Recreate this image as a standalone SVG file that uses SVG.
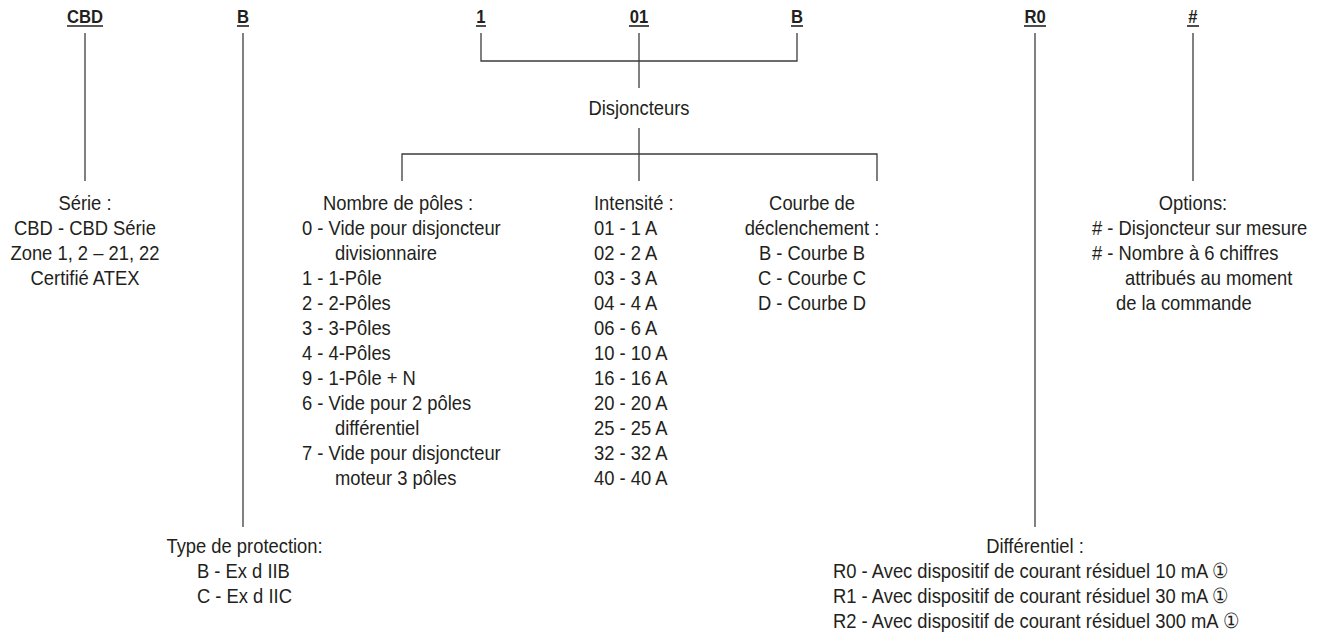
<svg xmlns="http://www.w3.org/2000/svg" width="1319" height="636" viewBox="0 0 1319 636">
<style>
  text { font-family: "Liberation Sans", Arial, sans-serif; fill: #231f20; }
  .t { font-size: 21px; }
  .h { font-size: 19px; font-weight: bold; text-anchor: middle; }
  .m { text-anchor: middle; }
  .ln { stroke: #3c3c3c; stroke-width: 1.3; fill: none; }
  .ul { stroke: #231f20; stroke-width: 1.6; }
</style>
<rect width="1319" height="636" fill="#ffffff"/>

<g id="connectors" class="ln">
  <path d="M85 33 V181"/>
  <path d="M243 33 V527"/>
  <path d="M481 33 V61 H797 V33"/>
  <path d="M639 33 V88"/>
  <path d="M639 128 V181"/>
  <path d="M402 181 V154 H877 V181"/>
  <path d="M1035 33 V527"/>
  <path d="M1193 33 V181"/>
</g>

<g id="code-cbd">
  <g transform="translate(85 0) scale(0.875 1)"><text class="h" x="0" y="23">CBD</text></g>
  <line class="ul" x1="67" y1="26" x2="103" y2="26"/>
</g>
<g id="code-b1">
  <g transform="translate(243 0) scale(0.875 1)"><text class="h" x="0" y="23">B</text></g>
  <line class="ul" x1="237" y1="26" x2="249" y2="26"/>
</g>
<g id="code-1">
  <g transform="translate(481 0) scale(0.875 1)"><text class="h" x="0" y="23">1</text></g>
  <line class="ul" x1="476" y1="26" x2="486" y2="26"/>
</g>
<g id="code-01">
  <g transform="translate(639 0) scale(0.875 1)"><text class="h" x="0" y="23">01</text></g>
  <line class="ul" x1="629" y1="26" x2="649" y2="26"/>
</g>
<g id="code-b2">
  <g transform="translate(797 0) scale(0.875 1)"><text class="h" x="0" y="23">B</text></g>
  <line class="ul" x1="791" y1="26" x2="803" y2="26"/>
</g>
<g id="code-r0">
  <g transform="translate(1035 0) scale(0.875 1)"><text class="h" x="0" y="23">R0</text></g>
  <line class="ul" x1="1024" y1="26" x2="1046" y2="26"/>
</g>
<g id="code-hash">
  <g transform="translate(1193 0) scale(0.875 1)"><text class="h" x="0" y="23">#</text></g>
  <line class="ul" x1="1187" y1="26" x2="1199" y2="26"/>
</g>

<g id="disjoncteurs" transform="translate(639 0) scale(0.875 1)">
  <text class="t m" x="0" y="115">Disjoncteurs</text>
</g>

<g id="serie" transform="translate(85 0) scale(0.875 1)">
  <text class="t m" x="0" y="210">Série :</text>
  <text class="t m" x="0" y="235">CBD - CBD Série</text>
  <text class="t m" x="0" y="260">Zone 1, 2 – 21, 22</text>
  <text class="t m" x="0" y="285">Certifié ATEX</text>
</g>

<g id="poles" transform="translate(302 0) scale(0.875 1)">
  <text class="t" x="24" y="210">Nombre de pôles :</text>
  <text class="t" x="0" y="235">0 - Vide pour disjoncteur</text>
  <text class="t" x="37.7" y="260">divisionnaire</text>
  <text class="t" x="0" y="285">1 - 1-Pôle</text>
  <text class="t" x="0" y="310">2 - 2-Pôles</text>
  <text class="t" x="0" y="335">3 - 3-Pôles</text>
  <text class="t" x="0" y="360">4 - 4-Pôles</text>
  <text class="t" x="0" y="385">9 - 1-Pôle + N</text>
  <text class="t" x="0" y="410">6 - Vide pour 2 pôles</text>
  <text class="t" x="37.7" y="435">différentiel</text>
  <text class="t" x="0" y="460">7 - Vide pour disjoncteur</text>
  <text class="t" x="37.7" y="485">moteur 3 pôles</text>
</g>

<g id="intensite" transform="translate(594 0) scale(0.875 1)">
  <text class="t" x="0" y="210">Intensité :</text>
  <text class="t" x="0" y="235">01 - 1 A</text>
  <text class="t" x="0" y="260">02 - 2 A</text>
  <text class="t" x="0" y="285">03 - 3 A</text>
  <text class="t" x="0" y="310">04 - 4 A</text>
  <text class="t" x="0" y="335">06 - 6 A</text>
  <text class="t" x="0" y="360">10 - 10 A</text>
  <text class="t" x="0" y="385">16 - 16 A</text>
  <text class="t" x="0" y="410">20 - 20 A</text>
  <text class="t" x="0" y="435">25 - 25 A</text>
  <text class="t" x="0" y="460">32 - 32 A</text>
  <text class="t" x="0" y="485">40 - 40 A</text>
</g>

<g id="courbe" transform="translate(812 0) scale(0.875 1)">
  <text class="t m" x="0" y="210">Courbe de</text>
  <text class="t m" x="0" y="235">déclenchement :</text>
  <text class="t m" x="0" y="260">B - Courbe B</text>
  <text class="t m" x="0" y="285">C - Courbe C</text>
  <text class="t m" x="0" y="310">D - Courbe D</text>
</g>

<g id="options" transform="translate(1092 0) scale(0.875 1)">
  <text class="t m" x="115.4" y="210">Options:</text>
  <text class="t" x="0" y="235"># - Disjoncteur sur mesure</text>
  <text class="t" x="0" y="260"># - Nombre à 6 chiffres</text>
  <text class="t" x="37.7" y="285">attribués au moment</text>
  <text class="t" x="27.4" y="310">de la commande</text>
</g>

<g id="protection" transform="translate(197 0) scale(0.875 1)">
  <text class="t m" x="54.3" y="553">Type de protection:</text>
  <text class="t" x="0" y="578">B - Ex d IIB</text>
  <text class="t" x="0" y="603">C - Ex d IIC</text>
</g>

<g id="differentiel" transform="translate(833 0) scale(0.875 1)">
  <text class="t m" x="230.9" y="553">Différentiel :</text>
  <text class="t" x="0" y="578">R0 - Avec dispositif de courant résiduel 10 mA ①</text>
  <text class="t" x="0" y="603">R1 - Avec dispositif de courant résiduel 30 mA ①</text>
  <text class="t" x="0" y="628">R2 - Avec dispositif de courant résiduel 300 mA ①</text>
</g>
</svg>
